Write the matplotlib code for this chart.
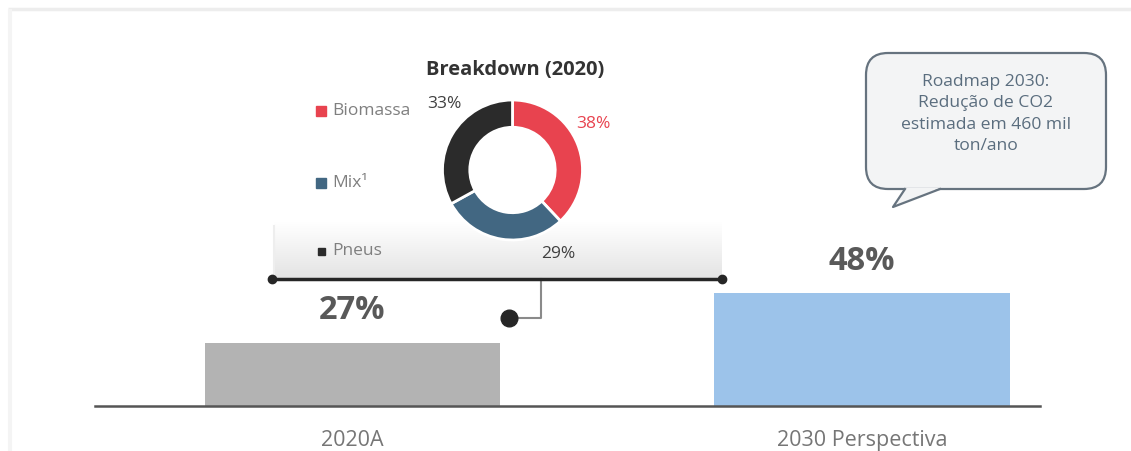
import matplotlib.pyplot as plt
import numpy as np
from matplotlib.patches import FancyBboxPatch, Polygon
from matplotlib.colors import LinearSegmentedColormap

plt.rcParams['font.family'] = ['Open Sans', 'DejaVu Sans']

# bar data
categories = ['2020A', '2030 Perspectiva']
share = [27, 48]
bar_colors = ['#b3b3b3', '#9cc3ea']

# breakdown of 2020
sources = ['Biomassa', 'Mix\u00b9', 'Pneus']
breakdown = [38, 29, 33]
ring_colors = ['#e8434f', '#426782', '#2b2b2b']

bubble_lines = ['Roadmap 2030:', 'Redução de CO2', 'estimada em 460 mil', 'ton/ano']

W, H = 1131, 451
fig = plt.figure(figsize=(W / 100, H / 100), dpi=100)
fig.patch.set_facecolor('white')

# overlay in pixel units for decorations
ov = fig.add_axes([0, 0, 1, 1], zorder=0)
ov.set_xlim(0, W)
ov.set_ylim(H, 0)
ov.axis('off')

# faint frame at the top
ov.plot([8, W], [9, 9], color='#ededed', lw=2.5, solid_capstyle='butt')
ov.plot([10, 10], [9, H], color='#f4f4f4', lw=3, solid_capstyle='butt')

# shaded band under the ring
grad = np.linspace(0, 1, 100).reshape(-1, 1)
band_cmap = LinearSegmentedColormap.from_list('band', ['#ffffff', '#e4e4e4'])
ov.imshow(grad, extent=[274, 722, 278, 222], cmap=band_cmap, aspect='auto', zorder=1)
ov.plot([274, 274], [226, 278], color='#eeeeee', lw=1.5, zorder=1)

# bracket line with end dots
ov.plot([272, 722], [279, 279], color='#262626', lw=2.5, zorder=3)
ov.plot([272, 722], [279, 279], 'o', color='#262626', ms=6, zorder=4)
ov.plot([541, 541, 509], [279, 318, 318], color='#8a8a8a', lw=1.5, zorder=2)
ov.plot([509], [318], 'o', color='#262626', ms=12, zorder=4)

# speech bubble
box = FancyBboxPatch((866, 53), 240, 136, boxstyle='round,pad=0,rounding_size=22',
                     fc='#f3f4f5', ec='#66737f', lw=1.6, zorder=2)
ov.add_patch(box)
ov.add_patch(Polygon([[905, 188], [893, 207], [940, 188]], closed=False,
                     fc='#f3f4f5', ec='none', zorder=3))
ov.plot([905, 893, 940], [189, 207, 189], color='#66737f', lw=1.6, zorder=3)
ov.text(986, 114, '\n'.join(bubble_lines), ha='center', va='center', fontsize=12.6,
        color='#5a6d7e', linespacing=1.42, zorder=4)

# bars
ax = fig.add_axes([95 / W, 45 / H, 945 / W, 406 / H], zorder=1)
ax.patch.set_alpha(0)
x = np.arange(len(categories))
ax.bar(x, share, width=0.58, color=bar_colors)
ax.set_xlim(-0.505, 1.349)
ax.set_ylim(0, 406 / 2.345)
for xi, v in zip(x, share):
    ax.annotate(f'{v}%', (xi, v), xytext=(0, 23), textcoords='offset points',
                ha='center', va='center', fontsize=23.5, fontweight='bold', color='#595959')
for s in ['top', 'right', 'left']:
    ax.spines[s].set_visible(False)
ax.spines['bottom'].set_color('#555555')
ax.spines['bottom'].set_linewidth(1.8)
ax.set_yticks([])
ax.set_xticks(x)
ax.set_xticklabels(categories, fontsize=15.5, color='#767676')
ax.tick_params(axis='x', length=0, pad=17)

# ring chart
cx, cy, r = 512.5, 170, 70
half = 1.07 * r
dax = fig.add_axes([(cx - half) / W, (H - cy - half) / H, 2 * half / W, 2 * half / H], zorder=2)
dax.pie(breakdown, colors=ring_colors, startangle=90, counterclock=False,
        wedgeprops=dict(width=0.39, edgecolor='white', linewidth=2))
dax.set_xlim(-1.07, 1.07)
dax.set_ylim(-1.07, 1.07)
dax.set_aspect('equal')

# percentage labels around the ring
label_pos = [(1.15, 0.66), (0.65, -1.2), (-0.98, 0.94)]
label_col = ['#e8434f', '#404040', '#404040']
for (lx, ly), v, c in zip(label_pos, breakdown, label_col):
    dax.text(lx, ly, f'{v}%', ha='center', va='center', fontsize=12.5, color=c, clip_on=False)

# title and legend
ov.text(515, 70, 'Breakdown (2020)', ha='center', va='center', fontsize=14.5,
        fontweight='bold', color='#333333', zorder=5)
legend_y = [111, 183, 251]
legend_sz = [10, 10, 7]
for name, col, ly, sz in zip(sources, ring_colors, legend_y, legend_sz):
    ov.plot([321], [ly], 's', color=col, ms=sz * 0.72, zorder=5)
    ov.text(332, ly, name, ha='left', va='center', fontsize=12.5, color='#7f7f7f', zorder=5)

fig.savefig('out.png', dpi=100, facecolor='white')
